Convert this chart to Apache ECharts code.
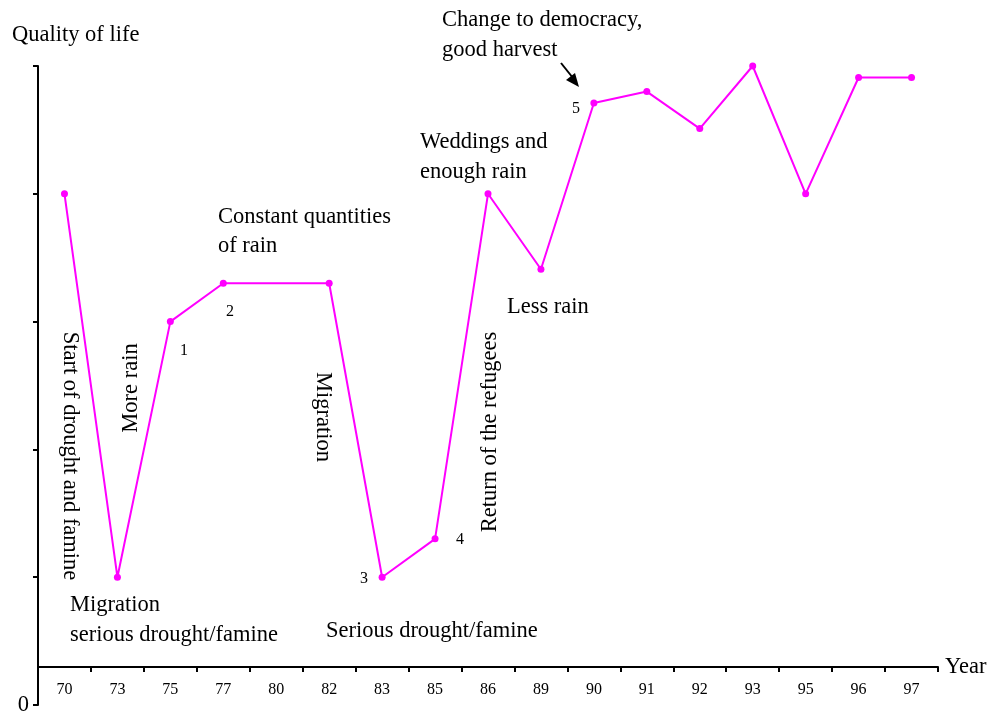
<!DOCTYPE html>
<html>
<head>
<meta charset="utf-8">
<script src="https://cdn.jsdelivr.net/npm/echarts@6/dist/echarts.min.js"></script>
<style>html,body{margin:0;padding:0;background:#fff}#c{width:993px;height:717px}</style>
</head>
<body>
<div id="c"></div>
<script>
const years = ['70','73','75','77','80','82','83','85','86','89','90','91','92','93','95','96','97'];
const quality = [4.0, 1.0, 3.0, 3.3, 3.3, 3.3, 1.0, 1.3, 4.0, 3.41, 4.71, 4.8, 4.51, 5.0, 4.0, 4.91, 4.91];
const hiddenMarkerYears = ['80'];
const yTickLabels = {0: '0'};

const FONT = 'Liberation Serif';
const BIG = 22.5;
const chart = echarts.init(document.getElementById('c'), null, {renderer: 'canvas'});

function txt(x, y, text, opts) {
  opts = opts || {};
  return {
    type: 'text', x: x, y: y, rotation: opts.rot || 0,
    style: {
      text: text, fontFamily: FONT, fontSize: opts.size || BIG, fill: '#000',
      align: opts.align || 'left', verticalAlign: opts.va || 'middle',
      lineHeight: opts.lh || 30
    }
  };
}

chart.setOption({
  backgroundColor: '#fff',
  animation: false,
  grid: {left: 38, right: 55, top: 66, bottom: 12, containLabel: false},
  xAxis: {
    type: 'category', data: years, boundaryGap: true,
    position: 'bottom', offset: -38,
    name: 'Year', nameLocation: 'end', nameGap: 7,
    nameTextStyle: {fontFamily: FONT, fontSize: BIG, color: '#000'},
    axisLine: {onZero: false, lineStyle: {color: '#000', width: 2}},
    axisTick: {show: true, length: 5, alignWithLabel: false, lineStyle: {color: '#000', width: 2}},
    axisLabel: {margin: 15, fontFamily: FONT, fontSize: 16, color: '#000', interval: 0},
    splitLine: {show: false}
  },
  yAxis: {
    type: 'value', min: 0, max: 5, interval: 1,
    axisLine: {show: true, lineStyle: {color: '#000', width: 2}},
    axisTick: {show: true, length: 5, lineStyle: {color: '#000', width: 2}},
    axisLabel: {margin: 9, fontFamily: FONT, fontSize: BIG, color: '#000',
      formatter: v => (yTickLabels[v] !== undefined ? yTickLabels[v] : '')},
    splitLine: {show: false}
  },
  series: [{
    type: 'line',
    data: quality.map((v, i) => hiddenMarkerYears.includes(years[i]) ? {value: v, symbol: 'none'} : v),
    symbol: 'circle', symbolSize: 7, showAllSymbol: true,
    lineStyle: {color: '#ff00ff', width: 2},
    itemStyle: {color: '#ff00ff'}
  }],
  graphic: [
    txt(12, 35, 'Quality of life'),
    txt(70, 456, 'Start of drought and famine', {rot: -Math.PI / 2, align: 'center'}),
    txt(131, 388, 'More rain', {rot: Math.PI / 2, align: 'center'}),
    txt(184, 351, '1', {size: 16, align: 'center'}),
    txt(230, 312, '2', {size: 16, align: 'center'}),
    txt(218, 232, 'Constant quantities\nof rain', {lh: 29}),
    txt(323, 417, 'Migration', {rot: -Math.PI / 2, align: 'center'}),
    txt(364, 579, '3', {size: 16, align: 'center'}),
    txt(460, 540, '4', {size: 16, align: 'center'}),
    txt(326, 631, 'Serious drought/famine'),
    txt(70, 620, 'Migration\nserious drought/famine', {lh: 30}),
    txt(490, 432, 'Return of the refugees', {rot: Math.PI / 2, align: 'center'}),
    txt(420, 157, 'Weddings and\nenough rain', {lh: 30}),
    txt(507, 307, 'Less rain'),
    txt(442, 35, 'Change to democracy,\ngood harvest', {lh: 30}),
    txt(576, 109, '5', {size: 16, align: 'center'}),
    {type: 'line', shape: {x1: 561, y1: 63, x2: 573, y2: 78}, style: {stroke: '#000', lineWidth: 2}},
    {type: 'polygon', shape: {points: [[579, 87], [566, 80], [575, 73]]}, style: {fill: '#000'}}
  ]
});
</script>
</body>
</html>
